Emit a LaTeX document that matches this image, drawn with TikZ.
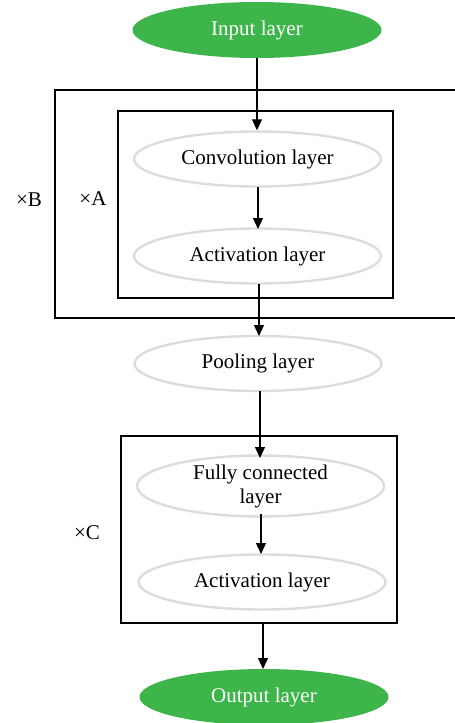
\documentclass[tikz,border=0pt]{standalone}
\usepackage{fontspec}
\setmainfont{Liberation Serif}
\usetikzlibrary{shapes.geometric,arrows.meta}
\definecolor{lgreen}{HTML}{3DB54A}
\definecolor{lgray}{HTML}{DCDCDC}
\begin{document}
\begin{tikzpicture}[x=1pt,y=-1pt,
  layer/.style={ellipse,draw=lgray,line width=2.4pt,minimum width=247pt,minimum height=55pt,inner sep=0pt,font=\fontsize{21}{24}\selectfont,align=center},
  io/.style={ellipse,fill=lgreen,minimum width=249pt,minimum height=56pt,inner sep=0pt,text=white,font=\fontsize{21}{24}\selectfont},
  frame/.style={draw=black,line width=1.8pt,inner sep=0pt},
  conn/.style={line width=1.1pt,-{Triangle[length=11pt,width=10pt]}},
  rep/.style={font=\fontsize{21}{24}\selectfont}]
\useasboundingbox (0,0) rectangle (455,723);
\node[frame,minimum width=415pt,minimum height=228pt] (boxB) at (262.5,204) {};
\node[frame,minimum width=275pt,minimum height=187pt] (boxA) at (255.5,204.5) {};
\node[frame,minimum width=276pt,minimum height=187pt] (boxC) at (259,529.5) {};
\node[io] (in) at (257,30) {Input layer};
\node[layer] (conv) at (257.5,159) {Convolution layer};
\node[layer] (act1) at (257.5,256) {Activation layer};
\node[layer] (pool) at (258,363.5) {Pooling layer};
\node[layer] (fc) at (260.5,486) {Fully connected\\layer};
\node[layer] (act2) at (262,582) {Activation layer};
\node[io] (out) at (264,697) {Output layer};
\node[rep] (xB) at (29,200) {×B};
\node[rep] (xA) at (93,199) {×A};
\node[rep] (xC) at (87,533) {×C};
\draw[conn] (in.south) -- (in.south |- conv.north);
\draw[conn] (258,187) -- (258,229);
\draw[conn] (259,284) -- (259,336);
\draw[conn] (260,391) -- (260,458);
\draw[conn] (261,514) -- (261,554);
\draw[conn] (263,623) -- (263,669);
\end{tikzpicture}
\end{document}
